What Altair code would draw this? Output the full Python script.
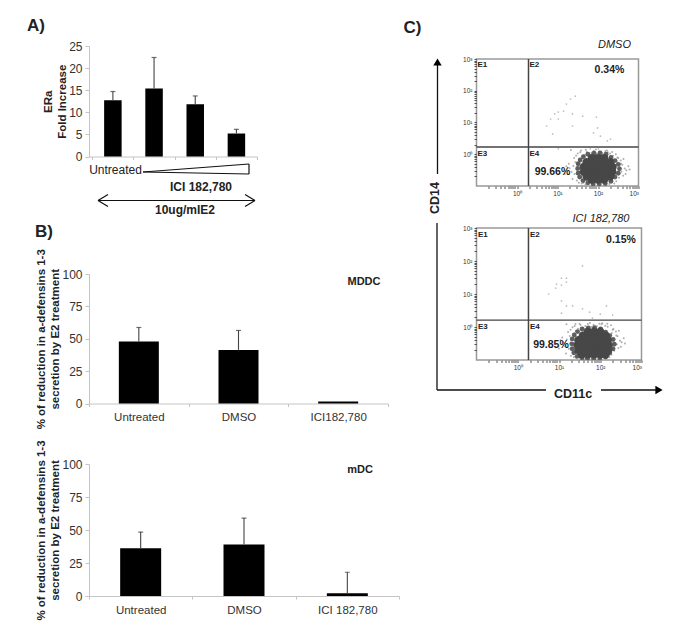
import altair as alt
import pandas as pd

FONT = "Liberation Sans"
TXT = "#222222"

# Panel A
A_CATS = ["1", "2", "3", "4"]
A_VAL = [12.7, 15.4, 11.8, 5.2]
A_TOP = [14.7, 22.4, 13.7, 6.15]
# Panel B
B1_CATS = ["Untreated", "DMSO", "ICI182,780"]
B1_VAL = [47.9, 41.4, 1.5]
B1_TOP = [58.7, 56.4, None]
B2_CATS = ["Untreated", "DMSO", "ICI 182,780"]
B2_VAL = [36.2, 39.0, 2.0]
B2_TOP = [48.4, 59.0, 18.0]

# Panel C: all positions are log10 of the fluorescence
C1_GATE = (0.284, 0.228)
C2_GATE = (0.26, 0.21)
C1_SPARSE_X = [1.44,1.32,1.22,1.15,1.02,0.93,1.02,0.83,0.73,0.88,1.37,1.62,1.96,1.37,1.99,1.89,2.06,2.23,2.31,1.02,1.81,2.01]
C1_SPARSE_Y = [1.83,1.74,1.58,1.36,1.33,1.27,1.11,1.11,0.89,0.64,1.27,1.20,1.17,0.89,0.83,0.67,0.57,0.42,0.48,0.17,0.17,0.17]
C2_SPARSE_X = [1.57,1.18,1.06,1.18,0.94,1.06,0.92,0.75,1.06,1.18,1.33,1.57,2.15,1.06,1.74,2.00,2.30,1.81]
C2_SPARSE_Y = [1.85,1.48,1.48,1.36,1.30,1.27,1.18,1.00,0.79,0.64,0.64,0.55,0.64,0.42,0.45,0.39,0.36,0.27]
C1_CORE = [
    (-0.80, [1.85, 2.00, 2.15]),
    (-0.70, [1.72, 1.87, 2.02, 2.17, 2.30]),
    (-0.55, [1.65, 1.80, 1.95, 2.10, 2.25, 2.35]),
    (-0.40, [1.65, 1.80, 1.95, 2.10, 2.25, 2.36]),
    (-0.25, [1.72, 1.87, 2.02, 2.17, 2.30]),
    (-0.12, [1.85, 2.00, 2.15]),
]
C2_CORE = [
    (-0.83, [1.55, 1.70, 1.85, 2.00, 2.13]),
    (-0.70, [1.47, 1.62, 1.77, 1.92, 2.07, 2.19]),
    (-0.55, [1.45, 1.60, 1.75, 1.90, 2.05, 2.20]),
    (-0.40, [1.47, 1.62, 1.77, 1.92, 2.07, 2.18]),
    (-0.26, [1.58, 1.73, 1.88, 2.03, 2.13]),
    (-0.14, [1.70, 1.85, 2.00]),
]
C1_EDGE_X = [1.50,1.51,1.51,1.55,1.56,1.63,1.64,1.75,1.75,1.88,1.90,2.03,2.05,2.18,2.20,2.32,2.32,2.42,2.42,2.50,2.50,2.53]
C1_EDGE_Y = [-0.45,-0.60,-0.30,-0.72,-0.18,-0.83,-0.08,-0.90,0.00,-0.93,0.03,-0.93,0.04,-0.92,0.00,-0.85,-0.10,-0.72,-0.20,-0.60,-0.32,-0.46]
C2_EDGE_X = [1.31,1.32,1.32,1.36,1.37,1.44,1.45,1.56,1.56,1.69,1.71,1.84,1.86,1.99,2.01,2.13,2.13,2.23,2.23,2.31,2.31,2.34]
C2_EDGE_Y = [-0.51,-0.66,-0.36,-0.78,-0.24,-0.89,-0.14,-0.93,-0.06,-0.95,-0.03,-0.95,-0.02,-0.94,-0.06,-0.91,-0.16,-0.78,-0.26,-0.66,-0.38,-0.52]
C1_HALO_X = [1.42,1.47,1.39,1.51,1.44,1.35,1.55,1.48,1.30,1.41,1.53,1.37,1.46,1.28,1.50,1.60,1.56,1.66,1.62,1.72,1.78,1.70,1.84,1.90,1.82,1.97,2.04,1.95,2.11,2.18,2.09,2.24,2.30,2.22,2.37,2.44,2.35,2.50,2.56,2.47,2.60,2.53,2.66,2.58,2.70,2.62,2.52,2.45,2.68,2.75,2.57,2.48,2.63,2.40,2.33,2.28,2.42,1.64,1.74,1.88,2.02,2.16,1.22,1.18,1.33,2.78,1.58,1.69]
C1_HALO_Y = [-0.62,-0.48,-0.37,-0.72,-0.25,-0.55,-0.18,-0.83,-0.44,-0.12,-0.90,-0.78,-0.05,-0.30,0.02,-0.92,0.06,-0.02,-0.10,0.08,0.00,0.14,0.05,0.11,-0.04,0.02,0.09,0.15,0.04,0.10,-0.02,0.06,0.02,0.12,-0.05,0.00,0.07,-0.12,-0.20,-0.24,-0.33,-0.40,-0.45,-0.55,-0.50,-0.68,-0.74,-0.85,-0.62,-0.38,-0.30,-0.10,-0.15,-0.92,-0.88,-0.94,-0.62,-0.90,-0.94,-0.93,-0.95,-0.92,-0.38,-0.62,0.13,-0.48,0.12,-0.95]
C2_HALO_X = [1.24,1.30,1.19,1.34,1.26,1.15,1.37,1.29,1.10,1.22,1.36,1.17,1.28,1.08,1.33,1.42,1.38,1.46,1.41,1.52,1.58,1.50,1.64,1.70,1.62,1.78,1.84,1.75,1.92,1.98,1.89,2.05,2.12,2.03,2.18,2.26,2.17,2.32,2.38,2.28,2.42,2.35,2.48,2.40,2.52,2.44,2.34,2.27,2.50,2.57,2.39,2.30,2.45,2.22,2.16,2.10,2.24,1.46,1.56,1.70,1.84,1.98,1.04,1.00,1.18,2.60,1.40,1.52]
C2_HALO_Y = [-0.66,-0.50,-0.38,-0.76,-0.27,-0.58,-0.20,-0.87,-0.46,-0.15,-0.92,-0.80,-0.08,-0.32,-0.01,-0.94,0.03,-0.05,-0.12,0.06,-0.02,0.10,0.03,0.09,-0.06,0.00,0.07,0.12,0.02,0.10,-0.04,0.11,0.04,0.08,0.01,0.05,0.10,-0.06,-0.14,-0.18,-0.28,-0.36,-0.42,-0.52,-0.46,-0.64,-0.72,-0.84,-0.60,-0.34,-0.26,-0.08,-0.11,-0.92,-0.88,-0.94,-0.60,-0.92,-0.95,-0.94,-0.95,-0.93,-0.40,-0.65,0.08,-0.50,0.09,-0.95]

TICK_EXP = [-0.7, -0.52, -0.4, -0.3, -0.22, -0.15, -0.1, -0.05, 0, 0.3, 0.48, 0.6, 0.7, 0.78, 0.85, 0.9, 0.95,
            1, 1.3, 1.48, 1.6, 1.7, 1.78, 1.85, 1.9, 1.95, 2, 2.3, 2.48, 2.6, 2.7, 2.78, 2.85, 2.9, 2.95, 3]

BLANK = alt.Data(values=[{}])


def note(text, px, py, ox, oy, size=12, bold=True, italic=False, color=TXT, align="center", angle=0):
    kw = dict(text=text, fontSize=size, font=FONT, color=color, align=align, baseline="middle", angle=angle,
              fontWeight="bold" if bold else "normal", fontStyle="italic" if italic else "normal")
    return alt.Chart(BLANK).mark_text(**kw).encode(x=alt.value(px - ox), y=alt.value(py - oy))


def seg(x1, y1, x2, y2, ox, oy, color="#111111", w=1.2):
    return alt.Chart(BLANK).mark_rule(color=color, strokeWidth=w).encode(
        x=alt.value(x1 - ox), x2=alt.value(x2 - ox), y=alt.value(y1 - oy), y2=alt.value(y2 - oy))


def head(px, py, ox, oy, shape):
    return alt.Chart(BLANK).mark_point(shape=shape, filled=True, color="#000000", size=70, opacity=1).encode(
        x=alt.value(px - ox), y=alt.value(py - oy))


def spacer(h):
    return alt.Chart(BLANK).mark_point(opacity=0).encode(x=alt.value(0), y=alt.value(0)).properties(
        width=1, height=h, view=alt.ViewBackground(stroke=None))


def bars(cats, vals, tops, ymax, yticks, w, h, bar_w, cap, ytitle, labels, title_pad, extras, pad_outer=0, align=0.5):
    df = pd.DataFrame({"c": cats, "v": vals})
    et = pd.DataFrame({"c": cats, "v": vals, "t": tops}).dropna()
    xs = alt.Scale(domain=cats, paddingInner=0, paddingOuter=pad_outer, align=align)
    ys = alt.Scale(domain=[0, ymax], nice=False)
    xa = alt.Axis(labels=labels, labelAngle=0, labelFontSize=11.5, labelFont=FONT, labelColor="#333333",
                  tickBand="extent", tickColor="#c4c4c4", domainColor="#c4c4c4", tickSize=3,
                  labelPadding=5, grid=False, title=None)
    ya = alt.Axis(values=yticks, title=ytitle, titleFont=FONT, titleFontSize=11.5, titleFontWeight="bold",
                  titleColor=TXT, titlePadding=title_pad, titleLineHeight=14.5, labelOverlap=False,
                  labelFontSize=12, labelFont=FONT, labelColor="#333333", grid=False,
                  tickColor="#c4c4c4", domainColor="#c4c4c4", tickSize=4, labelPadding=3)
    x = alt.X("c:N", sort=cats, scale=xs, axis=xa)
    bar = alt.Chart(df).mark_bar(color="#000000", size=bar_w).encode(x=x, y=alt.Y("v:Q", scale=ys, axis=ya))
    rule = alt.Chart(et).mark_rule(color="#444444", strokeWidth=1.1).encode(
        x=x, y=alt.Y("v:Q", scale=ys, axis=ya), y2="t:Q")
    capm = alt.Chart(et).mark_tick(color="#333333", size=cap, thickness=1.2).encode(
        x=x, y=alt.Y("t:Q", scale=ys, axis=ya))
    return alt.layer(bar, rule, capm, *extras).properties(width=w, height=h, view=alt.ViewBackground(stroke=None))


def flow(w, h, gate, sparse_x, sparse_y, core, edge_x, edge_y, halo_x, halo_y, extras):
    p10 = lambda v: 10 ** v
    xs = alt.Scale(type="log", domain=[0.1, 1000], nice=False)
    ys = alt.Scale(type="log", domain=[0.1, 1000], nice=False)
    expr = "datum.value>0.99&&datum.value<1.01?'10⁰':datum.value>9.9&&datum.value<10.1?'10¹':datum.value>99&&datum.value<101?'10²':datum.value>990?'10³':''"
    ticks = [p10(v) for v in TICK_EXP]
    ax = dict(values=ticks, labelExpr=expr, labelFontSize=6.5, labelFont=FONT, labelColor="#333333", title=None,
              grid=False, tickColor="#555555", tickSize=2.5, domain=False, labelOverlap=False, labelPadding=2)
    xa = alt.Axis(orient="bottom", **ax)
    ya = alt.Axis(orient="left", **ax)
    cx, cy = [], []
    for yy, row in core:
        for xx in row:
            cx.append(p10(xx)); cy.append(p10(yy))
    halo = pd.DataFrame({"x": [p10(v) for v in halo_x], "y": [p10(v) for v in halo_y]})
    edge = pd.DataFrame({"x": [p10(v) for v in edge_x], "y": [p10(v) for v in edge_y]})
    spar = pd.DataFrame({"x": [p10(v) for v in sparse_x], "y": [p10(v) for v in sparse_y]})
    body = pd.DataFrame({"x": cx, "y": cy})
    xn, yn = alt.X("x:Q", scale=xs, axis=xa), alt.Y("y:Q", scale=ys, axis=ya)
    layers = [
        alt.Chart(spar).mark_point(filled=True, color="#bdbdbd", size=3, opacity=1).encode(x=xn, y=yn),
        alt.Chart(halo).mark_point(filled=True, color="#8c8c8c", size=4, opacity=0.7, clip=True).encode(x=xn, y=yn),
        alt.Chart(edge).mark_point(filled=True, color="#5e5e5e", size=24, opacity=1, clip=True).encode(x=xn, y=yn),
        alt.Chart(body).mark_point(filled=True, color="#474747", size=70, opacity=1, clip=True).encode(x=xn, y=yn),
        alt.Chart(pd.DataFrame({"g": [p10(gate[0])]})).mark_rule(color="#444444", strokeWidth=1.5).encode(
            x=alt.X("g:Q", scale=xs, axis=xa)),
        alt.Chart(pd.DataFrame({"g": [p10(gate[1])]})).mark_rule(color="#444444", strokeWidth=1.3).encode(
            y=alt.Y("g:Q", scale=ys, axis=ya)),
    ]
    return alt.layer(*layers, *extras).properties(width=w, height=h, view=alt.ViewBackground(stroke="#999999", strokeWidth=1.5))


# ---- Panel A
ox, oy = 88, 45
A_extra = [
    note("A)", 35, 25, ox, oy, size=17),
    note("Untreated", 114.5, 169, ox, oy, size=12, bold=False),
    seg(142, 171, 248, 163, ox, oy), seg(142, 171, 248, 173, ox, oy), seg(248, 163, 248, 173, ox, oy),
    note("ICI 182,780", 200, 186, ox, oy, size=12),
    seg(97, 199.5, 254, 199.5, ox, oy),
    seg(97, 199.5, 107, 193.5, ox, oy), seg(97, 199.5, 107, 205.5, ox, oy),
    seg(254, 199.5, 244, 193.5, ox, oy), seg(254, 199.5, 244, 205.5, ox, oy),
    note("10ug/mIE2", 184, 209, ox, oy, size=12),
    note("B)", 43, 231, ox, oy, size=17),
]
panel_a = bars(A_CATS, A_VAL, A_TOP, 25, [0, 5, 10, 15, 20, 25], 168, 110.5, 17.5, 5,
               ["ERa", "Fold Increase"], False, 1, A_extra, pad_outer=0.04, align=1)
YT = ["% of reduction in a-defensins 1-3", "secretion by E2 treatment"]
panel_b1 = bars(B1_CATS, B1_VAL, B1_TOP, 100, [0, 25, 50, 75, 100], 299, 129.5, 40, 5, YT, True, 1,
                [note("MDDC", 363, 281, 88, 272.7, size=11)])
panel_b2 = bars(B2_CATS, B2_VAL, B2_TOP, 100, [0, 25, 50, 75, 100], 310, 132, 41, 5, YT, True, 1,
                [note("mDC", 359, 468, 88, 462.3, size=11)])

# ---- Panel C
ox, oy = 476, 58
C1_extra = [
    note("C)", 412, 27, ox, oy, size=17),
    note("DMSO", 614, 44, ox, oy, size=11, bold=False, italic=True),
    note("0.34%", 609, 69, ox, oy, size=10.5),
    note("99.66%", 552, 171, ox, oy, size=10.5),
    note("E1", 477, 64, ox, oy, size=8, align="left"),
    note("E2", 529, 64, ox, oy, size=8, align="left"),
    note("E3", 477, 153, ox, oy, size=8, align="left"),
    note("E4", 529, 153, ox, oy, size=8, align="left"),
    seg(437, 173, 437, 62, ox, oy, w=1.3),
    head(437, 61, ox, oy, "triangle-up"),
    note("CD14", 434, 197, ox, oy, size=12.5, angle=270),
]
panel_c1 = flow(162, 127, C1_GATE, C1_SPARSE_X, C1_SPARSE_Y, C1_CORE, C1_EDGE_X, C1_EDGE_Y, C1_HALO_X, C1_HALO_Y, C1_extra)
ox, oy = 476.5, 227
C2_extra = [
    note("ICI 182,780", 601, 218, ox, oy, size=11, bold=False, italic=True),
    note("0.15%", 621, 239, ox, oy, size=10.5),
    note("99.85%", 551, 344, ox, oy, size=10.5),
    note("E1", 478, 234, ox, oy, size=8, align="left"),
    note("E2", 530, 234, ox, oy, size=8, align="left"),
    note("E3", 478, 326, ox, oy, size=8, align="left"),
    note("E4", 530, 326, ox, oy, size=8, align="left"),
    seg(437, 222, 437, 389, ox, oy, w=1.3),
    seg(437, 389, 546, 389, ox, oy, w=1.3),
    seg(601, 389, 657, 389, ox, oy, w=1.3),
    head(659, 389, ox, oy, "triangle-right"),
    note("CD11c", 573, 393, ox, oy, size=12.5),
]
panel_c2 = flow(165, 132, C2_GATE, C2_SPARSE_X, C2_SPARSE_Y, C2_CORE, C2_EDGE_X, C2_EDGE_Y, C2_HALO_X, C2_HALO_Y, C2_extra)

left = alt.vconcat(panel_a, spacer(117), panel_b1, spacer(60), panel_b2, spacing=0, bounds="flush")
right = alt.vconcat(spacer(13), panel_c1, spacer(42), panel_c2, spacing=0, bounds="flush")
chart = alt.hconcat(left, right, spacing=387.5, bounds="flush").properties(
    padding={"left": 19, "top": 9, "right": 5, "bottom": 5}
).configure_concat(spacing=0)

chart.save("out.html", embed_options={"renderer": "svg", "actions": False})
